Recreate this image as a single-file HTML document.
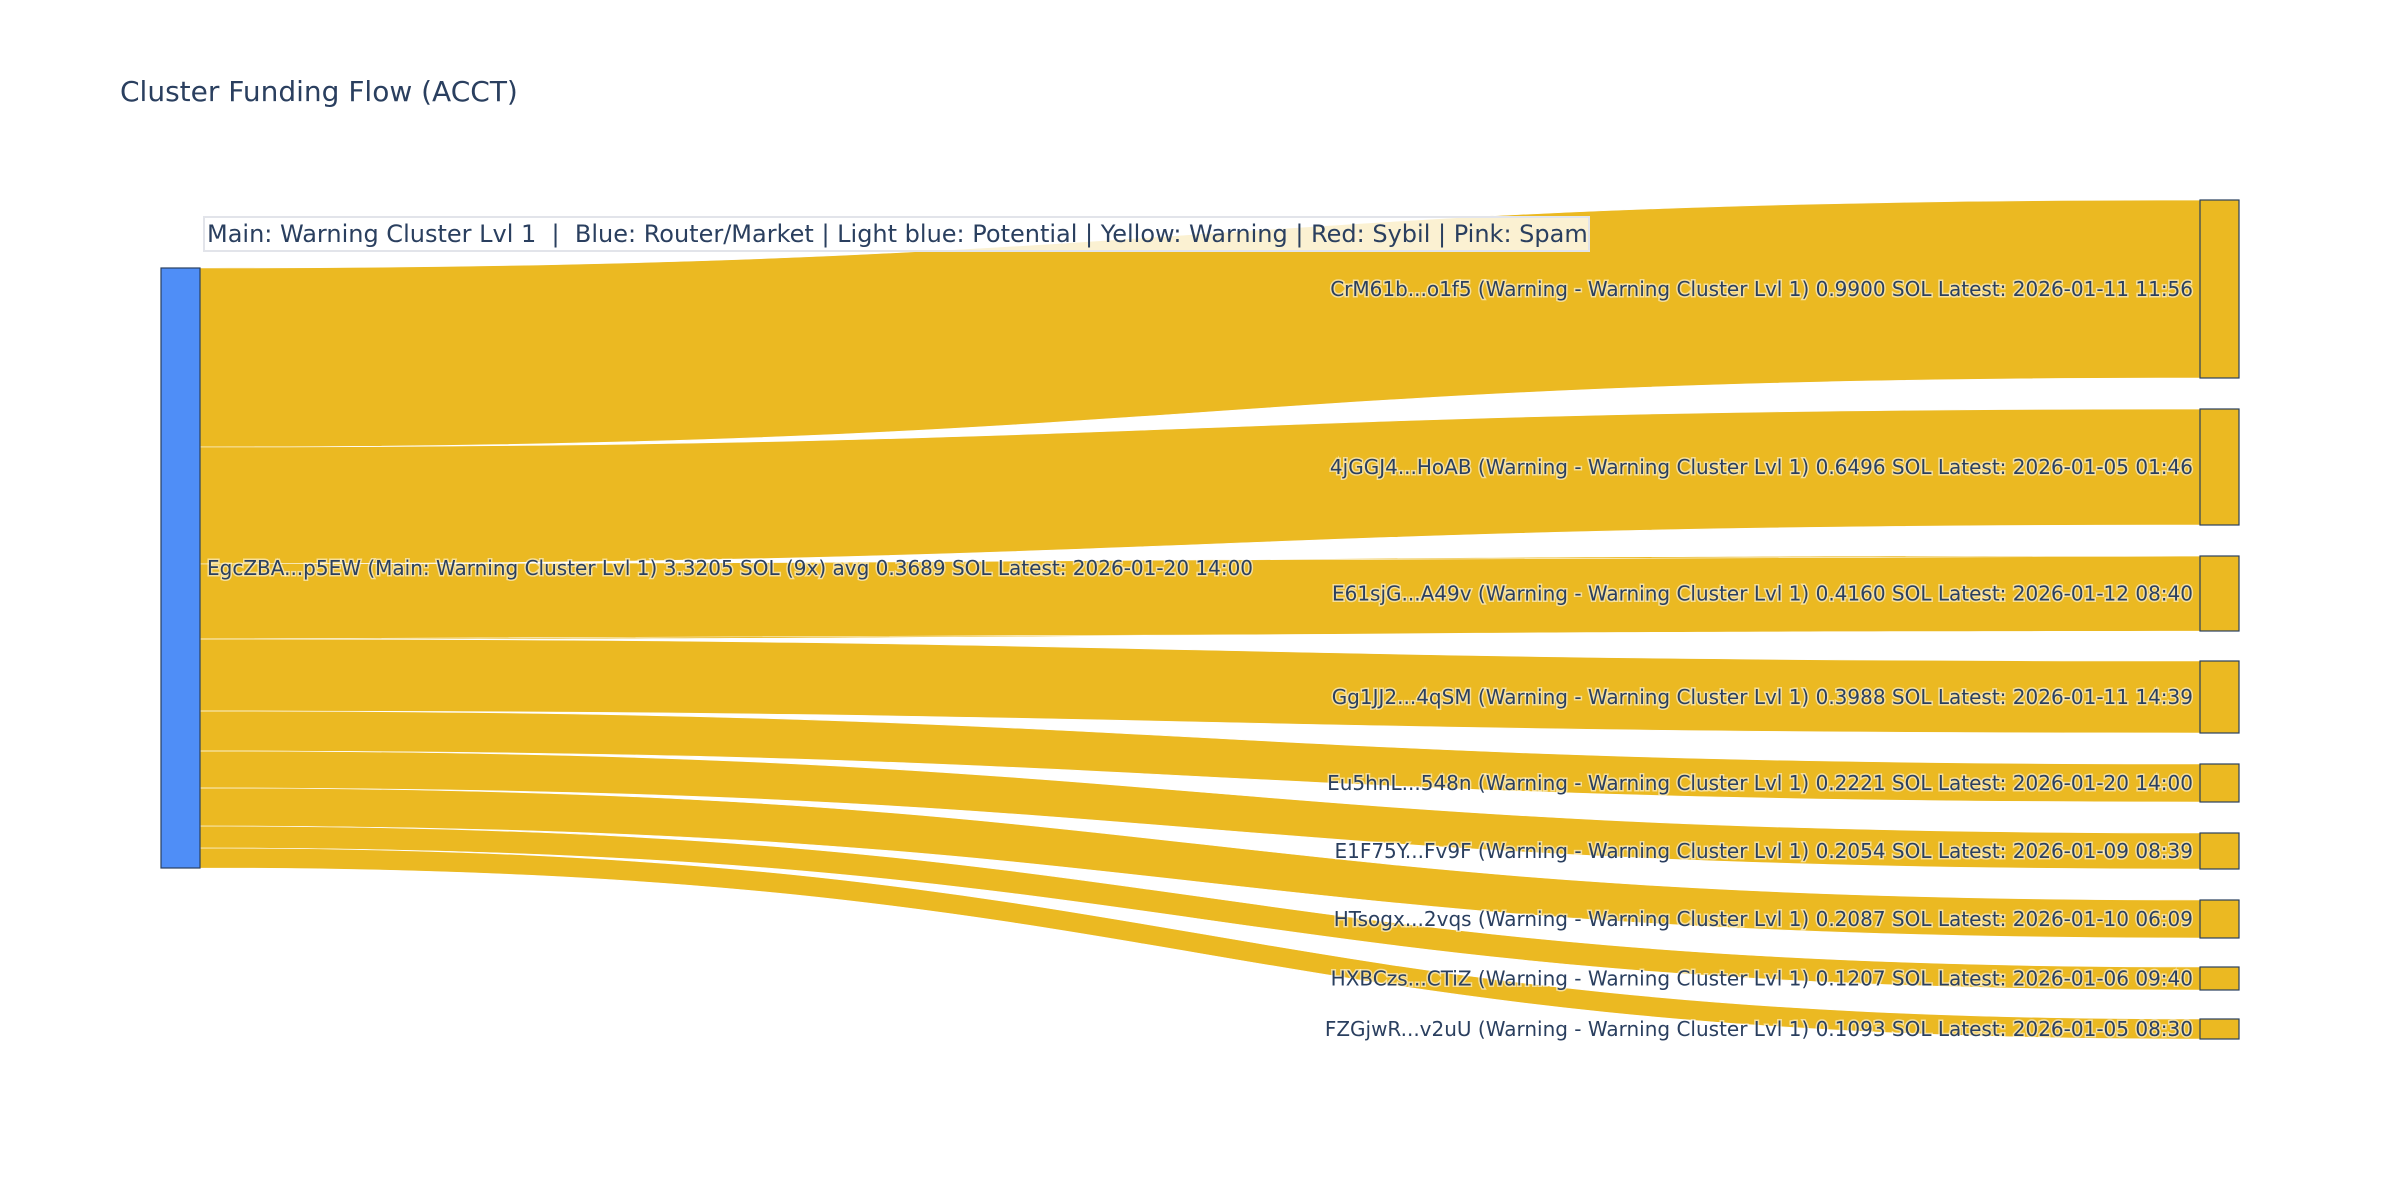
<!DOCTYPE html>
<html><head><meta charset="utf-8"><style>
html,body{margin:0;padding:0;background:#fff;}
svg{display:block;font-family:"DejaVu Sans","Liberation Sans",sans-serif;}
.lbl{font-size:20px;fill:#2a3f5f;paint-order:stroke;stroke:#fff;stroke-width:3px;stroke-opacity:0.55;}
</style></head><body>
<svg width="2400" height="1200" viewBox="0 0 2400 1200" xmlns="http://www.w3.org/2000/svg">
<rect width="2400" height="1200" fill="#fff"/>
<text x="120" y="101" font-size="28" fill="#2a3f5f">Cluster Funding Flow (ACCT)</text>
<g fill="#ebb922" id="links"></g>
<rect x="161" y="268" width="39" height="600" fill="#4f8ef7" stroke="#2a3f5f" stroke-width="1.2"/>
<g id="nodes"></g>
<g id="labels"></g>
<text class="lbl" x="207" y="575">EgcZBA...p5EW (Main: Warning Cluster Lvl 1) 3.3205 SOL (9x) avg 0.3689 SOL Latest: 2026-01-20 14:00</text>
<rect x="204" y="217" width="1385" height="34" fill="rgba(255,255,255,0.8)" stroke="#e2e4ea" stroke-width="2"/>
<text x="207" y="242" font-size="24" fill="#2a3f5f" xml:space="preserve">Main: Warning Cluster Lvl 1  |  Blue: Router/Market | Light blue: Potential | Yellow: Warning | Red: Sybil | Pink: Spam</text>
<script>
var L=[268,447,564,639,711,751,788,826,848,868];
var R=[[200,378],[409,525],[556,631],[661,733],[764,802],[833,869],[900,938],[967,990],[1019,1039]];
var T=["CrM61b...o1f5 (Warning - Warning Cluster Lvl 1) 0.9900 SOL Latest: 2026-01-11 11:56",
"4jGGJ4...HoAB (Warning - Warning Cluster Lvl 1) 0.6496 SOL Latest: 2026-01-05 01:46",
"E61sjG...A49v (Warning - Warning Cluster Lvl 1) 0.4160 SOL Latest: 2026-01-12 08:40",
"Gg1JJ2...4qSM (Warning - Warning Cluster Lvl 1) 0.3988 SOL Latest: 2026-01-11 14:39",
"Eu5hnL...548n (Warning - Warning Cluster Lvl 1) 0.2221 SOL Latest: 2026-01-20 14:00",
"E1F75Y...Fv9F (Warning - Warning Cluster Lvl 1) 0.2054 SOL Latest: 2026-01-09 08:39",
"HTsogx...2vqs (Warning - Warning Cluster Lvl 1) 0.2087 SOL Latest: 2026-01-10 06:09",
"HXBCzs...CTiZ (Warning - Warning Cluster Lvl 1) 0.1207 SOL Latest: 2026-01-06 09:40",
"FZGjwR...v2uU (Warning - Warning Cluster Lvl 1) 0.1093 SOL Latest: 2026-01-05 08:30"];
var ns="http://www.w3.org/2000/svg";
var gl=document.getElementById("links"),gn=document.getElementById("nodes"),gt=document.getElementById("labels");
for(var i=0;i<9;i++){
 var a=L[i],b=L[i+1],c=R[i][0],d=R[i][1];
 var p=document.createElementNS(ns,"path");
 p.setAttribute("d","M200,"+a+" C1200,"+a+" 1200,"+c+" 2200,"+c+" L2200,"+d+" C1200,"+d+" 1200,"+b+" 200,"+b+" Z");
 p.setAttribute("stroke","#fff");p.setAttribute("stroke-width","0.6");
 gl.appendChild(p);
 var r=document.createElementNS(ns,"rect");
 r.setAttribute("x",2200);r.setAttribute("y",c);r.setAttribute("width",39);r.setAttribute("height",d-c);
 r.setAttribute("fill","#ebb922");r.setAttribute("stroke","#2a3f5f");r.setAttribute("stroke-width","1.2");
 gn.appendChild(r);
 var t=document.createElementNS(ns,"text");
 t.setAttribute("x",2193);t.setAttribute("y",(c+d)/2+7);t.setAttribute("text-anchor","end");
 t.setAttribute("class","lbl");t.textContent=T[i];
 gt.appendChild(t);
}
</script>
</svg>
</body></html>
